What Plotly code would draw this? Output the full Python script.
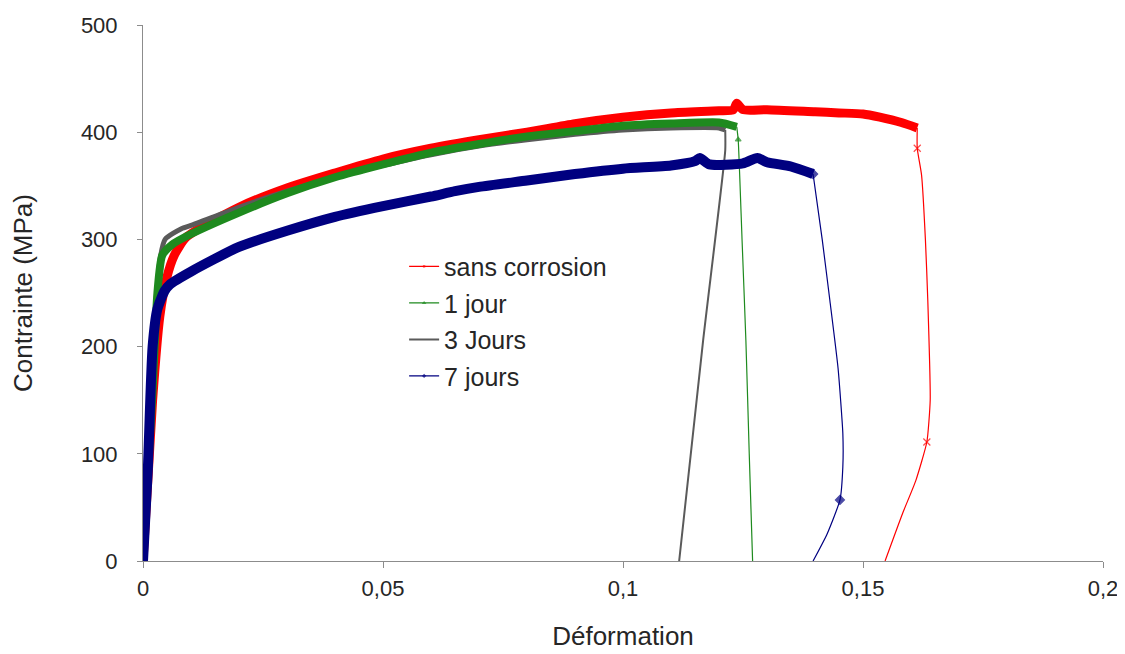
import plotly.graph_objects as go

# ---- data (strain, stress in MPa) ----
series_names = ["sans corrosion", "1 jour", "3 Jours", "7 jours"]

red_x = [0, 0.002, 0.0035, 0.005, 0.0065, 0.009, 0.02, 0.03, 0.04, 0.05, 0.06, 0.07, 0.08,
         0.09, 0.1, 0.11, 0.12, 0.123, 0.1237, 0.125, 0.13, 0.14, 0.145, 0.15, 0.1535, 0.158, 0.1613]
red_y = [0, 150, 228, 265, 285, 302, 330, 348, 362, 375, 385, 393, 400,
         408, 414, 418, 420, 421, 427, 421, 421, 419, 418, 417, 414, 409, 404]
red_tail_x = [0.1613, 0.1613, 0.1622, 0.163, 0.1635, 0.164, 0.1633, 0.161, 0.1583, 0.1546]
red_tail_y = [404, 385, 360, 300, 243, 150, 111, 75, 45, 0]
red_mark = [0, 1, 0, 0, 0, 0, 1, 0, 0, 0]

green_x = [0, 0.002, 0.003, 0.004, 0.006, 0.01, 0.02, 0.03, 0.04, 0.05, 0.06, 0.07, 0.08,
           0.09, 0.1, 0.11, 0.12, 0.1237]
green_y = [0, 160, 250, 285, 295, 305, 325, 343, 358, 370, 381, 389, 396,
           401, 406, 408, 409, 405]
green_tail_x = [0.1237, 0.124, 0.1248, 0.1256, 0.1263, 0.127]
green_tail_y = [405, 393, 300, 206, 100, 0]
green_mark = [0, 1, 0, 0, 0, 0]

gray_x = [0, 0.002, 0.0035, 0.0046, 0.008, 0.01, 0.02, 0.03, 0.04, 0.05, 0.06, 0.07, 0.08,
          0.09, 0.1, 0.11, 0.12, 0.1213]
gray_y = [0, 170, 280, 300, 310, 313, 330, 345, 358, 369, 379, 387, 393,
          398, 402, 404, 404, 402]
gray_tail_x = [0.1213, 0.1213, 0.1167, 0.1117]
gray_tail_y = [402, 383, 206, 0]

blue_x = [0, 0.001, 0.002, 0.003, 0.0045, 0.0056, 0.01, 0.02, 0.03, 0.04, 0.05, 0.06, 0.065,
          0.07, 0.08, 0.09, 0.1, 0.11, 0.115, 0.116, 0.118, 0.125, 0.128, 0.13, 0.135, 0.1396]
blue_y = [0, 85, 200, 235, 252, 258, 270, 293, 308, 321, 331, 340, 345,
          349, 355, 361, 366, 369, 373, 376, 370, 371, 376, 372, 368, 361]
blue_tail_x = [0.1396, 0.1415, 0.1431, 0.1448, 0.1458, 0.1458, 0.1452, 0.1425, 0.1396]
blue_tail_y = [361, 300, 243, 180, 119, 88, 57, 25, 0]
blue_mark = [1, 0, 0, 0, 0, 0, 1, 0, 0]

x_ticks = [0, 0.05, 0.1, 0.15, 0.2]
x_tick_labels = ["0", "0,05", "0,1", "0,15", "0,2"]
y_ticks = [0, 100, 200, 300, 400, 500]

RED, GREEN, GRAY, BLUE = "#FF0000", "#1E8A1E", "#5A5A5A", "#000080"
FONT = "Liberation Sans, Arial, sans-serif"
TXT = "#262626"

fig = go.Figure()

def add_series(name, cx, cy, tx, ty, marks, color, width, tail_width, symbol, msize, rank):
    fig.add_trace(go.Scatter(x=cx, y=cy, mode="lines",
                             line=dict(color=color, width=width, shape="spline", smoothing=0.6),
                             legendgroup=name, showlegend=False, hoverinfo="skip"))
    sizes = [msize if m else 0 for m in marks]
    fig.add_trace(go.Scatter(x=tx, y=ty, mode="lines+markers" if symbol else "lines",
                             name=name, legendgroup=name, legendrank=rank,
                             line=dict(color=color, width=tail_width, shape="spline", smoothing=0.5),
                             marker=dict(symbol=symbol or "circle", size=sizes, color=color,
                                         line=dict(color=color, width=1.2)),
                             showlegend=True))

add_series(series_names[0], red_x, red_y, red_tail_x, red_tail_y, red_mark, RED, 9, 1.2, "x-thin", 7, 1)
add_series(series_names[2], gray_x, gray_y, gray_tail_x, gray_tail_y, [0]*len(gray_tail_x), GRAY, 5, 2, None, 0, 3)
add_series(series_names[1], green_x, green_y, green_tail_x, green_tail_y, green_mark, GREEN, 8, 1.2, "triangle-up", 5, 2)
add_series(series_names[3], blue_x, blue_y, blue_tail_x, blue_tail_y, blue_mark, BLUE, 10, 1.2, "diamond", 7, 4)

axis_common = dict(showgrid=False, zeroline=False, showline=True, linecolor="#8C8C8C", linewidth=1,
                   ticks="outside", tickcolor="#8C8C8C", automargin=False,
                   tickfont=dict(family=FONT, size=22, color=TXT))

# page body has an 8px default margin, compensated in the figure margins
fig.update_layout(
    width=1125, height=654,
    paper_bgcolor="white", plot_bgcolor="white",
    margin=dict(l=135, r=30, t=17, b=101),
    separators=", ",
    font=dict(family=FONT, color=TXT),
    xaxis=dict(range=[0, 0.2], tickvals=x_ticks, ticktext=x_tick_labels, ticklen=6,
               ticklabelstandoff=2,
               title=dict(text="Déformation", font=dict(family=FONT, size=26, color=TXT), standoff=26),
               **axis_common),
    yaxis=dict(range=[0, 500], tickvals=y_ticks, ticklen=5, ticklabelstandoff=15,
               title=dict(text="Contrainte (MPa)", font=dict(family=FONT, size=26, color=TXT), standoff=40),
               **axis_common),
    legend=dict(x=0.272, y=0.592, xanchor="left", yanchor="top", bgcolor="rgba(0,0,0,0)",
                font=dict(family=FONT, size=25, color=TXT), traceorder="grouped", tracegroupgap=1),
    showlegend=True,
)

fig.write_html("out.html")
